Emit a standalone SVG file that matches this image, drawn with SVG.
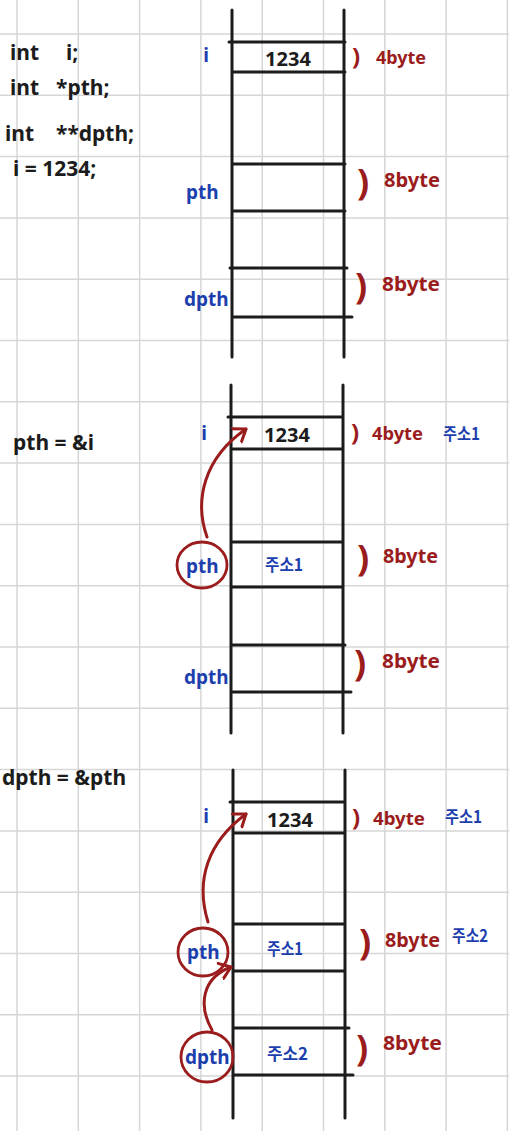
<svg xmlns="http://www.w3.org/2000/svg" width="509" height="1131" viewBox="0 0 509 1131">
<defs>
<style>
.grid{stroke:#d6d6d6;stroke-width:1.5;fill:none}
.stk{stroke:#1c1c1c;stroke-width:3;fill:none;stroke-linecap:round}
.code{font-family:"Noto Sans","Noto Sans CJK KR",sans-serif;font-weight:700;fill:#1c1c1c;font-size:21px}
.val{font-family:"Noto Sans","Noto Sans CJK KR",sans-serif;font-weight:700;fill:#1c1c1c;font-size:20px}
.bl{font-family:"Noto Sans","Noto Sans CJK KR",sans-serif;font-weight:700;fill:#1d3fae;font-size:19px}
.kr{font-family:"Noto Sans CJK KR","Noto Sans",sans-serif;font-weight:700;fill:#1d3fae;font-size:17px}
.rd{font-family:"Noto Sans","Noto Sans CJK KR",sans-serif;font-weight:700;fill:#9b1c1c;font-size:20px}
.rs{font-family:"Noto Sans","Noto Sans CJK KR",sans-serif;font-weight:700;fill:#9b1c1c;font-size:18px}
.par{font-family:"Noto Sans",sans-serif;font-weight:700;fill:#9b1c1c}
.circ{stroke:#9b1c1c;stroke-width:2.8;fill:none}
.arr{stroke:#9b1c1c;stroke-width:3;fill:none;stroke-linecap:round}
</style>
<marker id="ah" markerUnits="userSpaceOnUse" markerWidth="24" markerHeight="24" refX="12" refY="12" orient="auto" viewBox="0 0 24 24">
<path d="M1,4 L12,12 L1,20" fill="none" stroke="#9b1c1c" stroke-width="3" stroke-linecap="round" stroke-linejoin="round"/>
</marker>
</defs>
<rect width="509" height="1131" fill="#ffffff"/>
<g id="grid">
<path class="grid" d="M17,0V1131M78.3,0V1131M139.6,0V1131M200.9,0V1131M262.2,0V1131M323.5,0V1131M384.8,0V1131M446.1,0V1131M507.4,0V1131
M0,34H509M0,95.3H509M0,156.6H509M0,217.9H509M0,279.2H509M0,340.5H509M0,401.8H509M0,463.1H509M0,524.4H509M0,585.7H509M0,647H509M0,708.3H509M0,769.6H509M0,830.9H509M0,892.2H509M0,953.5H509M0,1014.8H509M0,1076.1H509"/>
</g>

<g id="code1">
<text class="code" y="60"><tspan x="10">int</tspan> <tspan x="66">i;</tspan></text>
<text class="code" y="95"><tspan x="10">int</tspan> <tspan x="56">*pth;</tspan></text>
<text class="code" y="141"><tspan x="5">int</tspan> <tspan x="56">**dpth;</tspan></text>
<text class="code" x="13" y="176">i = 1234;</text>
</g>

<g id="stack1">
<path class="stk" d="M232,10V357M344,10V357M229,42H345M232,72H345M232,164H345M232,211H345M230,268H347M233,317H352"/>
</g>
<g id="s1-i">
<text class="bl" x="206" y="62" text-anchor="middle">i</text>
<text class="val" x="288" y="66" text-anchor="middle">1234</text>
<text><tspan class="par" x="352" y="65" font-size="24">)</tspan><tspan class="rs" x="376" y="64" textLength="50" lengthAdjust="spacingAndGlyphs">4byte</tspan></text>
</g>
<g id="s1-pth">
<text class="bl" x="186" y="199">pth</text>
<text><tspan class="par" x="357" y="195" font-size="36">)</tspan><tspan class="rd" x="384" y="187" textLength="56" lengthAdjust="spacingAndGlyphs">8byte</tspan></text>
</g>
<g id="s1-dpth">
<text class="bl" x="184" y="306">dpth</text>
<text><tspan class="par" x="355" y="299" font-size="36">)</tspan><tspan class="rd" x="382" y="291" textLength="58" lengthAdjust="spacingAndGlyphs">8byte</tspan></text>
</g>

<g id="code2">
<text class="code" x="13" y="450">pth = &amp;i</text>
</g>
<g id="stack2">
<path class="stk" d="M231,385V733M343,385V733M228,417H343M231,449H343M231,542H343M231,587H343M231,645H345M233,692H351"/>
</g>
<g id="s2-i">
<text class="bl" x="204" y="440" text-anchor="middle">i</text>
<text class="val" x="287" y="442" text-anchor="middle">1234</text>
<text><tspan class="par" x="351" y="441" font-size="24">)</tspan><tspan class="rs" x="372" y="440" textLength="51" lengthAdjust="spacingAndGlyphs">4byte</tspan></text>
<text class="kr" x="443" y="440" textLength="37" lengthAdjust="spacingAndGlyphs">주소1</text>
</g>
<g id="s2-pth">
<ellipse class="circ" cx="202" cy="565" rx="25" ry="23"/>
<text class="bl" x="186" y="573">pth</text>
<text class="kr" x="265" y="571" textLength="38" lengthAdjust="spacingAndGlyphs">주소1</text>
<text><tspan class="par" x="357" y="571" font-size="36">)</tspan><tspan class="rd" x="383" y="563" textLength="55" lengthAdjust="spacingAndGlyphs">8byte</tspan></text>
</g>
<g id="s2-dpth">
<text class="bl" x="184" y="684">dpth</text>
<text><tspan class="par" x="354" y="676" font-size="36">)</tspan><tspan class="rd" x="382" y="668" textLength="58" lengthAdjust="spacingAndGlyphs">8byte</tspan></text>
</g>

<g id="code3">
<text class="code" x="2" y="785">dpth = &amp;pth</text>
</g>
<g id="stack3">
<path class="stk" d="M233,770V1118M345,770V1118M230,802H345M233,833H345M233,924H345M233,971H345M233,1028H349M233,1075H353"/>
</g>
<g id="s3-i">
<text class="bl" x="206" y="823" text-anchor="middle">i</text>
<text class="val" x="290" y="827" text-anchor="middle">1234</text>
<text><tspan class="par" x="352" y="826" font-size="24">)</tspan><tspan class="rs" x="373" y="825" textLength="52" lengthAdjust="spacingAndGlyphs">4byte</tspan></text>
<text class="kr" x="445" y="823" textLength="37" lengthAdjust="spacingAndGlyphs">주소1</text>
</g>
<g id="s3-pth">
<ellipse class="circ" cx="203" cy="952" rx="25" ry="24"/>
<text class="bl" x="187" y="959">pth</text>
<text class="kr" x="267" y="955" textLength="36" lengthAdjust="spacingAndGlyphs">주소1</text>
<text><tspan class="par" x="359" y="955" font-size="36">)</tspan><tspan class="rd" x="385" y="947" textLength="55" lengthAdjust="spacingAndGlyphs">8byte</tspan></text>
<text class="kr" x="452" y="942" textLength="36" lengthAdjust="spacingAndGlyphs" font-size="15">주소2</text>
</g>
<g id="s3-dpth">
<ellipse class="circ" cx="207" cy="1057" rx="26" ry="25"/>
<text class="bl" x="185" y="1064">dpth</text>
<text class="kr" x="267" y="1060" textLength="41" lengthAdjust="spacingAndGlyphs">주소2</text>
<text><tspan class="par" x="356" y="1061" font-size="36">)</tspan><tspan class="rd" x="383" y="1050" textLength="59" lengthAdjust="spacingAndGlyphs">8byte</tspan></text>
</g>

<g id="connectors">
<path class="arr" d="M207,537 C194,500 204,458 246,429" marker-end="url(#ah)"/>
<path class="arr" d="M208,922 C195,880 208,842 246,814" marker-end="url(#ah)"/>
<path class="arr" d="M212,1030 C198,1005 202,978 231,967" marker-end="url(#ah)"/>
</g>
</svg>
